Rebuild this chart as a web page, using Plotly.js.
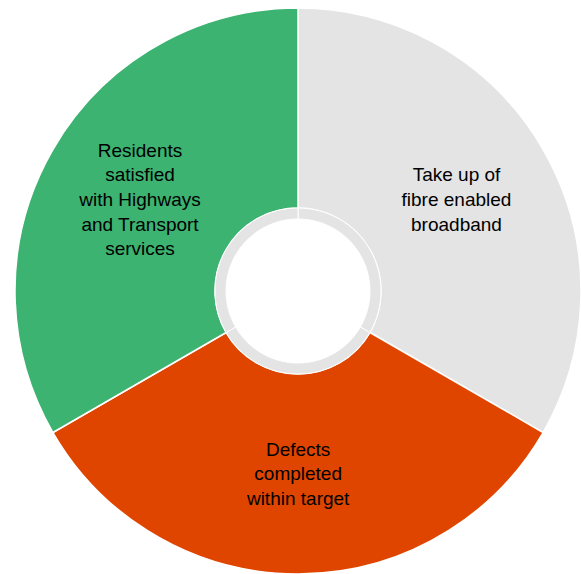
<!DOCTYPE html>
<html>
<head>
<meta charset="utf-8">
<script src="https://cdn.plot.ly/plotly-3.0.1.min.js"></script>
<style>html,body{margin:0;padding:0;background:#fff;overflow:hidden;}</style>
</head>
<body>
<div id="chart" style="width:581px;height:574px;"></div>
<script>
const labels = ["Take up of<br>fibre enabled<br>broadband", "Defects<br>completed<br>within target", "Residents<br>satisfied<br>with Highways<br>and Transport<br>services"];
const values = [1, 1, 1];
const colors = ["#e4e4e4", "#e04500", "#3cb371"];
const ringValues = [1, 1, 1];
const ringColors = ["#e4e4e4", "#e4e4e4", "#e4e4e4"];

const W = 581, H = 574;
const cx = 298, cy = 291, R = 283, rOut = 83, rIn = 72;

const outer = {
  type: "pie",
  values: values,
  text: labels,
  textinfo: "text",
  hoverinfo: "none",
  textposition: "inside",
  insidetextorientation: "horizontal",
  sort: false,
  direction: "clockwise",
  rotation: 0,
  hole: rOut / R,
  marker: {colors: colors, line: {color: "#ffffff", width: 1.5}},
  textfont: {family: "Liberation Sans, Arial, sans-serif", size: 19, color: "#000000"},
  domain: {x: [(cx - R) / W, (cx + R) / W], y: [(H - cy - R) / H, (H - cy + R) / H]},
  showlegend: false
};
const ring = {
  type: "pie",
  values: ringValues,
  textinfo: "none",
  hoverinfo: "none",
  sort: false,
  direction: "clockwise",
  rotation: 0,
  hole: rIn / rOut,
  marker: {colors: ringColors, line: {color: "#ffffff", width: 1}},
  domain: {x: [(cx - rOut) / W, (cx + rOut) / W], y: [(H - cy - rOut) / H, (H - cy + rOut) / H]},
  showlegend: false
};
Plotly.newPlot("chart", [outer, ring], {
  width: W, height: H,
  margin: {l: 0, r: 0, t: 0, b: 0},
  paper_bgcolor: "#ffffff",
  showlegend: false
}, {staticPlot: true});
</script>
</body>
</html>
